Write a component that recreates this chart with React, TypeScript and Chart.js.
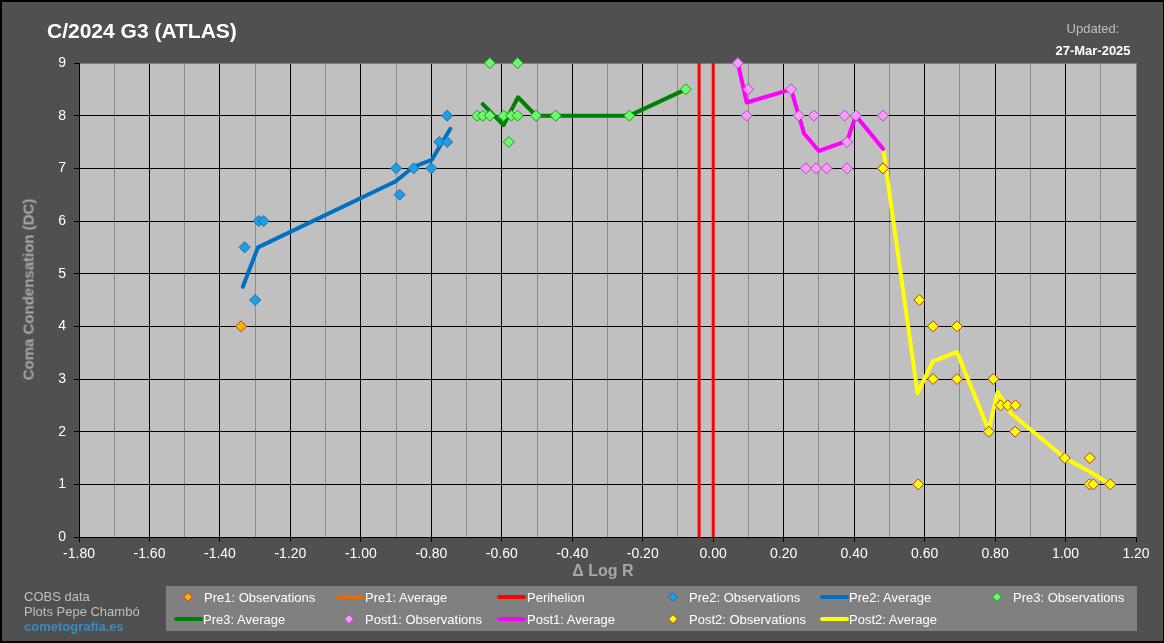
import React, { useEffect, useRef } from "react";
import { Chart, registerables } from "chart.js";

Chart.register(...registerables);

const FONT = '"Liberation Sans", Arial, Helvetica, sans-serif';

// ---------- data ----------
const pre1ObsX = [-1.34];
const pre1ObsY = [4];
const pre1AvgX = [-1.34];
const pre1AvgY = [4];

const perihelionX = [-0.04, 0.0];

const pre2ObsX = [-1.33, -1.3, -1.29, -1.276, -0.9, -0.89, -0.85, -0.8, -0.777, -0.755, -0.755];
const pre2ObsY = [5.5, 4.5, 6, 6, 7, 6.5, 7, 7, 7.5, 7.5, 8];
const pre2AvgX = [-1.335, -1.292, -0.902, -0.85, -0.799, -0.746];
const pre2AvgY = [4.75, 5.5, 6.75, 7.03, 7.16, 7.75];

const pre3ObsX = [-0.67, -0.654, -0.634, -0.634, -0.595, -0.58, -0.573, -0.555, -0.555, -0.503, -0.447, -0.238, -0.078];
const pre3ObsY = [8, 8, 8, 9, 8, 7.5, 8, 8, 9, 8, 8, 8, 8.5];
const pre3AvgX = [-0.654, -0.595, -0.554, -0.503, -0.238, -0.078];
const pre3AvgY = [8.22, 7.82, 8.35, 8, 8, 8.5];

const post1ObsX = [0.07, 0.095, 0.099, 0.221, 0.243, 0.263, 0.286, 0.292, 0.322, 0.373, 0.38, 0.38, 0.405, 0.482, 0.482];
const post1ObsY = [9, 8, 8.5, 8.5, 8, 7, 8, 7, 7, 8, 7.5, 7, 8, 8, 7];
const post1AvgX = [0.07, 0.095, 0.221, 0.258, 0.3, 0.38, 0.405, 0.482];
const post1AvgY = [9, 8.25, 8.5, 7.66, 7.33, 7.52, 8, 7.37];

const post2ObsX = [0.482, 0.582, 0.585, 0.624, 0.624, 0.692, 0.692, 0.782, 0.795, 0.816, 0.836, 0.857, 0.858, 0.998, 1.068, 1.069, 1.079, 1.127];
const post2ObsY = [7, 1, 4.5, 4, 3, 4, 3, 2, 3, 2.5, 2.5, 2, 2.5, 1.5, 1, 1.5, 1, 1];
const post2AvgX = [0.483, 0.58, 0.624, 0.692, 0.782, 0.807, 0.845, 0.998, 1.069, 1.127];
const post2AvgY = [7.35, 2.73, 3.34, 3.51, 2.03, 2.75, 2.35, 1.5, 1.24, 1.0];

const xMin = -1.8;
const xMax = 1.2;
const yMin = 0;
const yMax = 9;

const chartTitle = "C/2024 G3 (ATLAS)";
const updatedLabel = "Updated:";
const updatedDate = "27-Mar-2025";
const xTitle = "Δ Log R";
const yTitle = "Coma Condensation (DC)";
const notes = ["COBS data", "Plots Pepe Chambó"];
const siteNote = "cometografía.es";

const legendLabels = [
  "Pre1: Observations",
  "Pre1: Average",
  "Perihelion",
  "Pre2: Observations",
  "Pre2: Average",
  "Pre3: Observations",
  "Pre3: Average",
  "Post1: Observations",
  "Post1: Average",
  "Post2: Observations",
  "Post2: Average",
];

// ---------- styles ----------
const C = {
  pre1Obs: { fill: "#FFB000", stroke: "#C0392B" },
  pre1Avg: "#E36C09",
  peri: "#FF0000",
  pre2Obs: { fill: "#18A0E8", stroke: "#2A6AA0" },
  pre2Avg: "#0070C0",
  pre3Obs: { fill: "#66FF66", stroke: "#2E8B2E" },
  pre3Avg: "#008000",
  post1Obs: { fill: "#FF99FF", stroke: "#9B59B6" },
  post1Avg: "#FF00FF",
  post2Obs: { fill: "#FFFF00", stroke: "#B03A2E" },
  post2Avg: "#FFFF00",
};

const legendStyle: { kind: "marker" | "line"; cx: number; tx: number; row: number; color: any }[] = [
  { kind: "marker", cx: 188, tx: 204, row: 0, color: C.pre1Obs },
  { kind: "line", cx: 350, tx: 365, row: 0, color: C.pre1Avg },
  { kind: "line", cx: 511, tx: 527, row: 0, color: C.peri },
  { kind: "marker", cx: 673, tx: 689, row: 0, color: C.pre2Obs },
  { kind: "line", cx: 834, tx: 849, row: 0, color: C.pre2Avg },
  { kind: "marker", cx: 997, tx: 1013, row: 0, color: C.pre3Obs },
  { kind: "line", cx: 188, tx: 203, row: 1, color: C.pre3Avg },
  { kind: "marker", cx: 349, tx: 365, row: 1, color: C.post1Obs },
  { kind: "line", cx: 511, tx: 527, row: 1, color: C.post1Avg },
  { kind: "marker", cx: 673, tx: 689, row: 1, color: C.post2Obs },
  { kind: "line", cx: 834, tx: 849, row: 1, color: C.post2Avg },
];
const rowY = [597, 619];

function pts(xs: number[], ys: number[]) {
  return xs.map((x, i) => ({ x, y: ys[i] }));
}

function obs(label: string, xs: number[], ys: number[], c: { fill: string; stroke: string }, order = 1) {
  return {
    label,
    data: pts(xs, ys),
    showLine: false,
    clip: false,
    pointStyle: "rectRot",
    pointRadius: 5.5,
    pointBackgroundColor: c.fill,
    pointBorderColor: c.stroke,
    pointBorderWidth: 1,
    order,
  };
}

function avg(label: string, xs: number[], ys: number[], color: string) {
  return {
    label,
    data: pts(xs, ys),
    showLine: true,
    clip: false,
    borderColor: color,
    backgroundColor: color,
    borderWidth: 4,
    pointRadius: 0,
    borderCapStyle: "round",
    borderJoinStyle: "round",
    tension: 0,
    order: 2,
  };
}

function isMajor(v: number) {
  return Math.abs(Math.round(v * 10)) % 2 === 0;
}

export default function App() {
  const ref = useRef<HTMLCanvasElement>(null);

  useEffect(() => {
    if (!ref.current) return;
    const bgPlugin = {
      id: "bgPlugin",
      beforeDraw(chart: any) {
        const { ctx, chartArea: a, width, height } = chart;
        ctx.save();
        ctx.fillStyle = "#505050";
        ctx.fillRect(0, 0, width, height);
        ctx.fillStyle = "#C0C0C0";
        ctx.fillRect(a.left, a.top, a.right - a.left, a.bottom - a.top);
        ctx.restore();
      },
    };

    const periData: any[] = [];
    perihelionX.forEach((px, i) => {
      if (i > 0) periData.push({ x: px, y: null });
      periData.push({ x: px, y: yMin }, { x: px, y: yMax });
    });

    const chart = new Chart(ref.current, {
      type: "scatter",
      data: {
        datasets: [
          obs(legendLabels[0], pre1ObsX, pre1ObsY, C.pre1Obs),
          avg(legendLabels[1], pre1AvgX, pre1AvgY, C.pre1Avg),
          {
            label: legendLabels[2],
            data: periData,
            showLine: true,
            spanGaps: false,
            borderColor: C.peri,
            borderWidth: 3,
            pointRadius: 0,
            order: 3,
          },
          obs(legendLabels[3], pre2ObsX, pre2ObsY, C.pre2Obs),
          avg(legendLabels[4], pre2AvgX, pre2AvgY, C.pre2Avg),
          obs(legendLabels[5], pre3ObsX, pre3ObsY, C.pre3Obs),
          avg(legendLabels[6], pre3AvgX, pre3AvgY, C.pre3Avg),
          obs(legendLabels[7], post1ObsX, post1ObsY, C.post1Obs),
          avg(legendLabels[8], post1AvgX, post1AvgY, C.post1Avg),
          obs(legendLabels[9], post2ObsX, post2ObsY, C.post2Obs, 0),
          avg(legendLabels[10], post2AvgX, post2AvgY, C.post2Avg),
        ] as any,
      },
      options: {
        animation: false,
        responsive: false,
        maintainAspectRatio: false,
        layout: { padding: { top: 63, right: 28, left: 0, bottom: 0 } },
        plugins: {
          legend: { display: false },
          tooltip: { enabled: false },
          title: { display: false },
        },
        scales: {
          x: {
            type: "linear",
            min: xMin,
            max: xMax,
            afterFit: (s: any) => {
              s.height = 106;
            },
            ticks: {
              stepSize: 0.1,
              autoSkip: false,
              maxRotation: 0,
              minRotation: 0,
              color: "#FFFFFF",
              padding: 4,
              font: { family: FONT, size: 14 },
              callback: (v: any) => {
                const n = Number(v);
                return isMajor(n) ? (Math.round(n * 100) / 100).toFixed(2) : "";
              },
            },
            grid: {
              lineWidth: 1,
              tickLength: 5,
              color: (ctx: any) => {
                const v = ctx.tick ? ctx.tick.value : 0;
                if (Math.abs(v - xMax) < 1e-6) return "#808080";
                return isMajor(v) ? "#000000" : "#8C8C8C";
              },
              tickColor: (ctx: any) => {
                const v = ctx.tick ? ctx.tick.value : 0;
                return isMajor(v) ? "#000000" : "rgba(0,0,0,0)";
              },
            },
            border: { color: "#000000", width: 1 },
          },
          y: {
            type: "linear",
            min: yMin,
            max: yMax,
            afterFit: (s: any) => {
              s.width = 79;
            },
            ticks: {
              stepSize: 1,
              color: "#FFFFFF",
              padding: 8,
              font: { family: FONT, size: 14 },
            },
            grid: {
              lineWidth: 1,
              tickLength: 5,
              color: (ctx: any) => (ctx.tick && ctx.tick.value === yMax ? "#808080" : "#000000"),
              tickColor: "#000000",
            },
            border: { color: "#000000", width: 1 },
          },
        },
      } as any,
      plugins: [bgPlugin],
    });
    return () => chart.destroy();
  }, []);

  const txt = (extra: React.CSSProperties): React.CSSProperties => ({
    position: "absolute",
    fontFamily: FONT,
    whiteSpace: "nowrap",
    ...extra,
  });

  return (
    <div
      style={{
        position: "absolute",
        left: 0,
        top: 0,
        width: 1164,
        height: 643,
        background: "#505050",
        overflow: "hidden",
      }}
    >
      <canvas ref={ref} width={1164} height={643} style={{ position: "absolute", left: 0, top: 0 }} />

      <div style={txt({ left: 47, top: 20, fontSize: 21, lineHeight: "21px", fontWeight: "bold", color: "#FFFFFF" })}>
        {chartTitle}
      </div>
      <div style={txt({ left: 1043, width: 100, textAlign: "center", top: 21.5, fontSize: 13, lineHeight: "13px", color: "#BEBEBE" })}>
        {updatedLabel}
      </div>
      <div style={txt({ left: 1043, width: 100, textAlign: "center", top: 44, fontSize: 13, lineHeight: "13px", fontWeight: "bold", color: "#FFFFFF" })}>
        {updatedDate}
      </div>

      <div style={txt({ left: 553, width: 100, textAlign: "center", top: 563, fontSize: 16, lineHeight: "16px", fontWeight: "bold", color: "#A8A8A8" })}>
        {xTitle}
      </div>
      <div
        style={txt({
          left: 28 - 150,
          top: 289 - 7.5,
          width: 300,
          height: 15,
          textAlign: "center",
          fontSize: 15,
          lineHeight: "15px",
          fontWeight: "bold",
          color: "#A8A8A8",
          transform: "rotate(-90deg)",
        })}
      >
        {yTitle}
      </div>

      {notes.map((n, i) => (
        <div key={n} style={txt({ left: 24, top: 589.5 + i * 15, fontSize: 13, lineHeight: "13px", color: "#BEBEBE" })}>
          {n}
        </div>
      ))}
      <div style={txt({ left: 24, top: 619.5, fontSize: 13, lineHeight: "13px", fontWeight: "bold", color: "#3A8CC0" })}>
        {siteNote}
      </div>

      <div style={{ position: "absolute", left: 166, top: 586, width: 971, height: 45, background: "#808080" }} />
      {legendLabels.map((lab, i) => {
        const s = legendStyle[i];
        const y = rowY[s.row];
        return (
          <React.Fragment key={lab}>
            {s.kind === "marker" ? (
              <svg style={{ position: "absolute", left: s.cx - 6, top: y - 6 }} width={12} height={12}>
                <polygon
                  points="6,1.5 10.5,6 6,10.5 1.5,6"
                  fill={s.color.fill}
                  stroke={s.color.stroke}
                  strokeWidth={1}
                />
              </svg>
            ) : (
              <div
                style={{
                  position: "absolute",
                  left: s.cx - 14.5,
                  top: y - 2,
                  width: 29,
                  height: 4,
                  borderRadius: 2,
                  background: s.color,
                }}
              />
            )}
            <div style={txt({ left: s.tx, top: y - 6.5, fontSize: 13, lineHeight: "13px", color: "#FFFFFF" })}>{lab}</div>
          </React.Fragment>
        );
      })}

      <div
        style={{
          position: "absolute",
          left: 0,
          top: 0,
          width: 1164,
          height: 643,
          boxSizing: "border-box",
          borderTop: "2px solid #000",
          borderLeft: "2px solid #000",
          borderRight: "1px solid #000",
          borderBottom: "2px solid #000",
          pointerEvents: "none",
        }}
      />
    </div>
  );
}
